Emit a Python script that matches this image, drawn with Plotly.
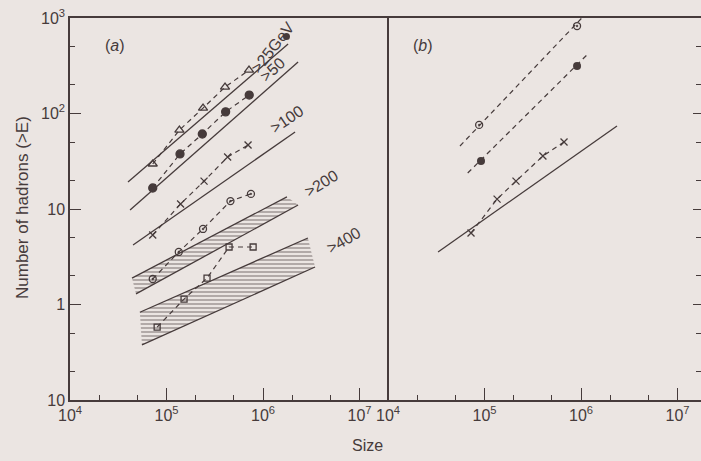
import plotly.graph_objects as go

# ---------------- data ----------------
# Panel (a): measured points
a_x_tri = [7.2e4, 1.36e5, 2.39e5, 4.04e5, 7.16e5, 1.75e6]
a_y_tri = [29.6, 67, 114, 189, 285, 640]
a_x_dot = [7.2e4, 1.38e5, 2.35e5, 4.1e5, 7.2e5]
a_y_dot = [16.6, 37.7, 61, 104, 156]
a_x_cross = [7.2e4, 1.4e5, 2.45e5, 4.3e5, 7.0e5]
a_y_cross = [5.35, 11.3, 19.6, 35, 46.8]
a_x_circ = [7.2e4, 1.34e5, 2.39e5, 4.6e5, 7.5e5]
a_y_circ = [1.85, 3.55, 6.18, 12.1, 14.4]
a_x_sq = [8.0e4, 1.52e5, 2.63e5, 4.45e5, 7.9e5]
a_y_sq = [0.58, 1.14, 1.89, 4.0, 4.0]

# Panel (a): solid reference lines (start, end)
line25_x = [3.99e4, 1.82e6]
line25_y = [19.2, 535]
line50_x = [4.19e4, 2.31e6]
line50_y = [9.77, 346]
line100_x = [4.5e4, 2.15e6]
line100_y = [4.2, 64]
# hatched bands (upper / lower edges)
band200_up_x = [4.39e4, 1.77e6]
band200_up_y = [1.89, 13.4]
band200_lo_x = [4.83e4, 2.31e6]
band200_lo_y = [1.29, 11.0]
band400_up_x = [5.3e4, 2.92e6]
band400_up_y = [0.83, 4.97]
band400_lo_x = [5.57e4, 3.46e6]
band400_lo_y = [0.377, 2.47]

# Panel (b)
b_x_circ = [8.8e4, 9.1e5]
b_y_circ = [75.9, 824]
b_fit_circ_x = [5.57e4, 1.02e6]
b_fit_circ_y = [45.7, 1000]
b_x_dot = [9.2e4, 9.1e5]
b_y_dot = [31.8, 314]
b_fit_dot_x = [6.7e4, 1.21e6]
b_fit_dot_y = [23.8, 431]
b_x_cross = [7.25e4, 1.35e5, 2.12e5, 4.03e5, 6.67e5]
b_y_cross = [5.6, 12.7, 19.6, 35.9, 50.3]
b_line_x = [3.3e4, 2.36e6]
b_line_y = [3.55, 74]

energy_labels = [">25GeV", ">50", ">100", ">200", ">400"]
x_tick_vals = [1e4, 1e5, 1e6, 1e7]
x_tick_text = ["10<sup>4</sup>", "10<sup>5</sup>", "10<sup>6</sup>", "10<sup>7</sup>"]
y_tick_vals = [0.1, 1, 10, 100, 1000]
y_tick_text = ["10", "1", "10", "10<sup>2</sup>", "10<sup>3</sup>"]
x_minor = [2e4, 5e4, 2e5, 5e5, 2e6, 5e6, 2e7]
y_minor = [0.2, 0.5, 2, 5, 20, 50, 200, 500]

# ---------------- style ----------------
INK = "#463b3b"
BG = "#ebe5e2"
FONT = "Liberation Sans"

fig = go.Figure()


def dashed(x, y, symbol, size, xa="x", ya="y"):
    fig.add_trace(go.Scatter(
        x=x, y=y, xaxis=xa, yaxis=ya, mode="lines+markers",
        line=dict(color=INK, width=1.2, dash="5px,4px"),
        marker=dict(symbol=symbol, size=size, color=INK,
                    line=dict(color=INK, width=1.3)),
        showlegend=False, hoverinfo="skip"))


def solid(x, y, xa="x", ya="y"):
    fig.add_trace(go.Scatter(
        x=x, y=y, xaxis=xa, yaxis=ya, mode="lines",
        line=dict(color=INK, width=1.3), showlegend=False, hoverinfo="skip"))


def band(ux, uy, lx, ly):
    fig.add_trace(go.Scatter(
        x=ux + lx[::-1], y=uy + ly[::-1], mode="lines", fill="toself",
        line=dict(width=0, color="rgba(0,0,0,0)"),
        fillcolor="rgba(0,0,0,0)",
        fillpattern=dict(shape="-", fgcolor=INK, bgcolor="rgba(0,0,0,0)",
                         size=4, solidity=0.35),
        showlegend=False, hoverinfo="skip"))
    solid(ux, uy)
    solid(lx, ly)


# Panel (a)
band(band200_up_x, band200_up_y, band200_lo_x, band200_lo_y)
band(band400_up_x, band400_up_y, band400_lo_x, band400_lo_y)
solid(line25_x, line25_y)
solid(line50_x, line50_y)
solid(line100_x, line100_y)
# triangle series: the last point sits inside the hand-lettered label
dashed(a_x_tri[:5], a_y_tri[:5], "triangle-up-open", 8)
fig.add_trace(go.Scatter(x=a_x_tri[5:], y=a_y_tri[5:], mode="markers",
                         marker=dict(symbol="circle", size=7, color=INK),
                         showlegend=False, hoverinfo="skip"))
dashed(a_x_dot, a_y_dot, "circle", 8)
dashed(a_x_cross, a_y_cross, "x-thin-open", 7)
dashed(a_x_circ, a_y_circ, "circle-open-dot", 7)
dashed(a_x_sq, a_y_sq, "square-open", 6)

# Panel (b)
fig.add_trace(go.Scatter(x=b_fit_circ_x, y=b_fit_circ_y, xaxis="x2", yaxis="y2", mode="lines",
                         line=dict(color=INK, width=1.2, dash="5px,4px"), showlegend=False, hoverinfo="skip"))
fig.add_trace(go.Scatter(x=b_fit_dot_x, y=b_fit_dot_y, xaxis="x2", yaxis="y2", mode="lines",
                         line=dict(color=INK, width=1.2, dash="5px,4px"), showlegend=False, hoverinfo="skip"))
fig.add_trace(go.Scatter(x=b_x_circ, y=b_y_circ, xaxis="x2", yaxis="y2", mode="markers",
                         marker=dict(symbol="circle-open-dot", size=7, color=INK, line=dict(color=INK, width=1.3)),
                         showlegend=False, hoverinfo="skip"))
fig.add_trace(go.Scatter(x=b_x_dot, y=b_y_dot, xaxis="x2", yaxis="y2", mode="markers",
                         marker=dict(symbol="circle", size=8, color=INK), showlegend=False, hoverinfo="skip"))
dashed(b_x_cross, b_y_cross, "x-thin-open", 7, "x2", "y2")
solid(b_line_x, b_line_y, "x2", "y2")

# ---------------- layout ----------------
W, H = 701, 461
ML, MR, MT, MB = 70, 0, 18, 61
pw = W - ML - MR
split = 317 / pw

common_x = dict(type="log", tickvals=x_tick_vals, ticktext=x_tick_text,
                ticks="inside", ticklen=12, tickwidth=1.2, tickcolor=INK,
                showline=True, linecolor=INK, linewidth=1.5, mirror=True,
                showgrid=False, zeroline=False, automargin=False,
                minor=dict(tickmode="array", tickvals=x_minor, ticks="inside",
                           ticklen=5, tickwidth=1.2, tickcolor=INK, showgrid=False),
                tickfont=dict(family=FONT, size=16, color=INK))
common_y = dict(type="log", range=[-1, 3], showgrid=False, zeroline=False,
                tickcolor=INK, automargin=False)

fig.update_layout(
    width=W, height=H,
    margin=dict(l=ML, r=MR, t=MT, b=MB),
    paper_bgcolor=BG, plot_bgcolor=BG,
    font=dict(family=FONT, color=INK),
    xaxis=dict(common_x, domain=[0, split], range=[4, 4 + 317 / 96.5], anchor="y"),
    xaxis2=dict(common_x, domain=[318 / pw, 1], range=[4, 4 + 313 / 96.5], anchor="y2"),
    yaxis=dict(common_y, anchor="x", tickvals=y_tick_vals, ticktext=y_tick_text,
               ticks="inside", ticklen=11, tickwidth=1.2,
               showline=True, linecolor=INK, linewidth=1.5, mirror=True,
               minor=dict(tickmode="array", tickvals=y_minor, ticks="inside",
                          ticklen=5, tickwidth=1.2, tickcolor=INK, showgrid=False),
               tickfont=dict(family=FONT, size=16, color=INK)),
    yaxis2=dict(common_y, anchor="x2", side="right", showline=False,
                tickvals=y_tick_vals, showticklabels=False,
                ticks="inside", ticklen=8, tickwidth=1.2,
                minor=dict(tickmode="array", tickvals=y_minor, ticks="inside",
                           ticklen=5, tickwidth=1.2, tickcolor=INK, showgrid=False)),
)

ann_font = dict(family=FONT, size=16, color=INK)
label_pos = [(6.10, 2.69, -52), (6.10, 2.46, -43), (6.245, 1.935, -34),
             (6.60, 1.272, -32), (6.835, 0.665, -30)]
for txt, (lx, ly, ang) in zip(energy_labels, label_pos):
    fig.add_annotation(x=lx, y=ly, xref="x", yref="y", text=txt, showarrow=False,
                       textangle=ang, font=ann_font, xanchor="center", yanchor="middle")

fig.add_annotation(x=4.466, y=2.717, xref="x", yref="y", text="(<i>a</i>)", showarrow=False,
                   font=dict(family=FONT, size=16, color=INK))
fig.add_annotation(x=4.363, y=2.717, xref="x2", yref="y2", text="(<i>b</i>)", showarrow=False,
                   font=dict(family=FONT, size=16, color=INK))
fig.add_annotation(x=(367 - ML) / pw, y=-(445 - 400) / 382, xref="paper", yref="paper",
                   xanchor="center", yanchor="middle",
                   text="Size", showarrow=False, font=dict(family=FONT, size=16, color=INK))
fig.add_annotation(x=-(ML - 22) / pw, y=(400 - 208) / 382, xref="paper", yref="paper",
                   xanchor="center", yanchor="middle",
                   text="Number of hadrons (>E)", textangle=-90, showarrow=False,
                   font=dict(family=FONT, size=17, color=INK))

fig.write_html("out.html", config={"displayModeBar": False},
               post_script="document.body.style.margin='0';document.body.style.padding='0';"
                           "document.body.style.background='" + BG + "';")
